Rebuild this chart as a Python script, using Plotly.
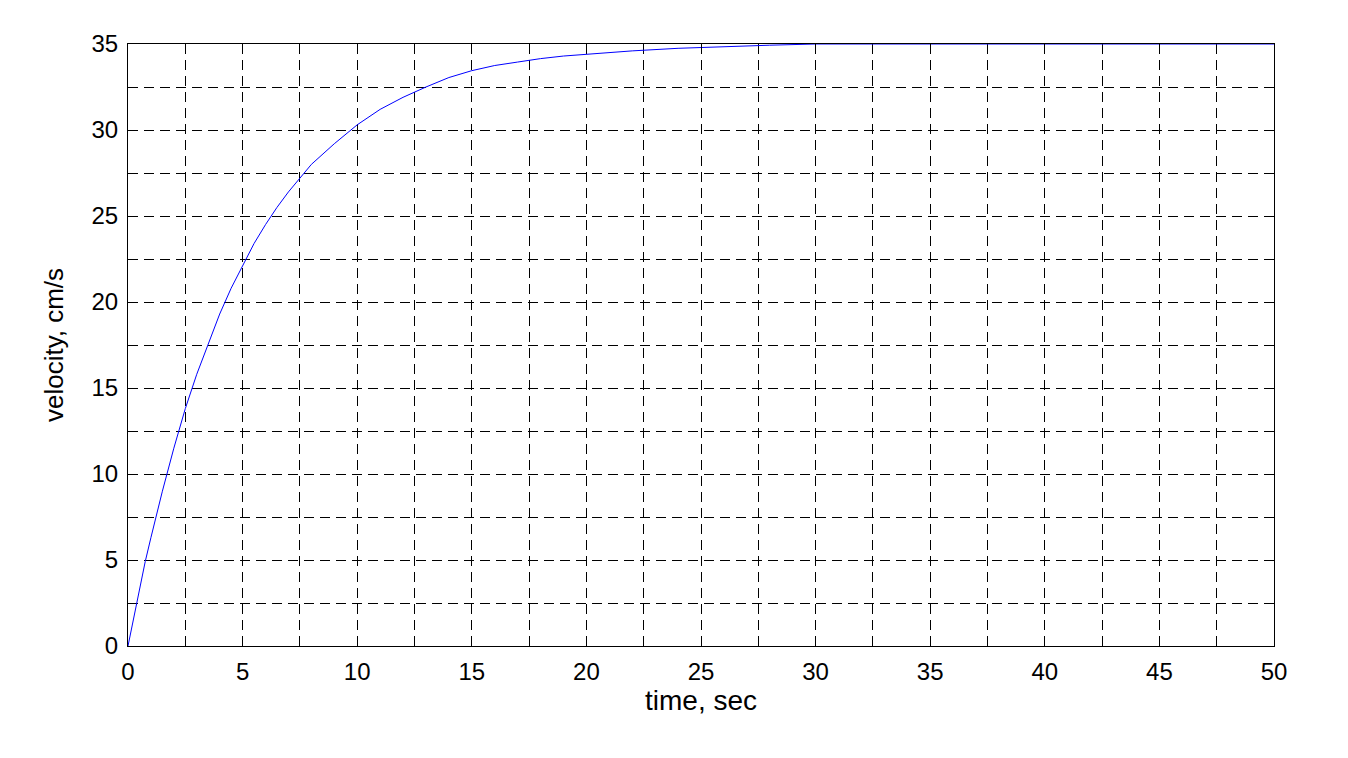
import plotly.graph_objects as go

# values
time_s = [0, 0.25, 0.5, 0.75, 1, 1.5, 2, 2.5, 3, 3.5, 4, 4.5, 5, 5.5, 6, 6.5, 7, 7.5, 8, 9, 10,
          11, 12, 13, 14, 15, 16, 17, 18, 19, 20, 22, 24, 26, 28, 30, 35, 40, 45, 50]
velocity = [0, 1.7, 3.3, 4.9, 6.3, 9.0, 11.5, 13.8, 15.8, 17.6, 19.3, 20.8, 22.1, 23.4, 24.5,
            25.5, 26.4, 27.2, 28.0, 29.2, 30.3, 31.2, 31.9, 32.5, 33.05, 33.45, 33.75, 33.95, 34.15,
            34.3, 34.4, 34.6, 34.75, 34.85, 34.93, 35.0, 35.0, 35.0, 35.0, 35.0]
x_ticks = [0, 5, 10, 15, 20, 25, 30, 35, 40, 45, 50]
y_ticks = [0, 5, 10, 15, 20, 25, 30, 35]

fig = go.Figure()
fig.add_trace(go.Scatter(x=time_s, y=velocity, mode="lines",
                         line=dict(color="rgb(0,0,255)", width=1), showlegend=False))

font = dict(family="Liberation Sans, Arial, sans-serif", color="black")
axis_common = dict(
    showline=True, linecolor="black", linewidth=1, mirror="ticks",
    ticks="inside", ticklen=5, tickcolor="black",
    showgrid=True, gridcolor="black", gridwidth=1, griddash="10px,6px",
    zeroline=False, tickfont=dict(size=24, **font),
)
minor = dict(dtick=2.5, tick0=0, showgrid=True, gridcolor="black",
             gridwidth=1, griddash="10px,6px", ticks="")
fig.update_xaxes(range=[0, 50], tickvals=x_ticks, minor=minor, ticklabelstandoff=4,
                 title=dict(text="time, sec", font=dict(size=28, **font), standoff=6),
                 **axis_common)
fig.update_yaxes(range=[0, 35], tickvals=y_ticks, minor=minor, ticklabelstandoff=4,
                 title=dict(text="velocity, cm/s", font=dict(size=26, **font), standoff=20),
                 **axis_common)
fig.update_layout(width=1340, height=750, plot_bgcolor="white", paper_bgcolor="white",
                  margin=dict(l=120, r=74, t=36, b=112))
fig.write_html("out.html")
